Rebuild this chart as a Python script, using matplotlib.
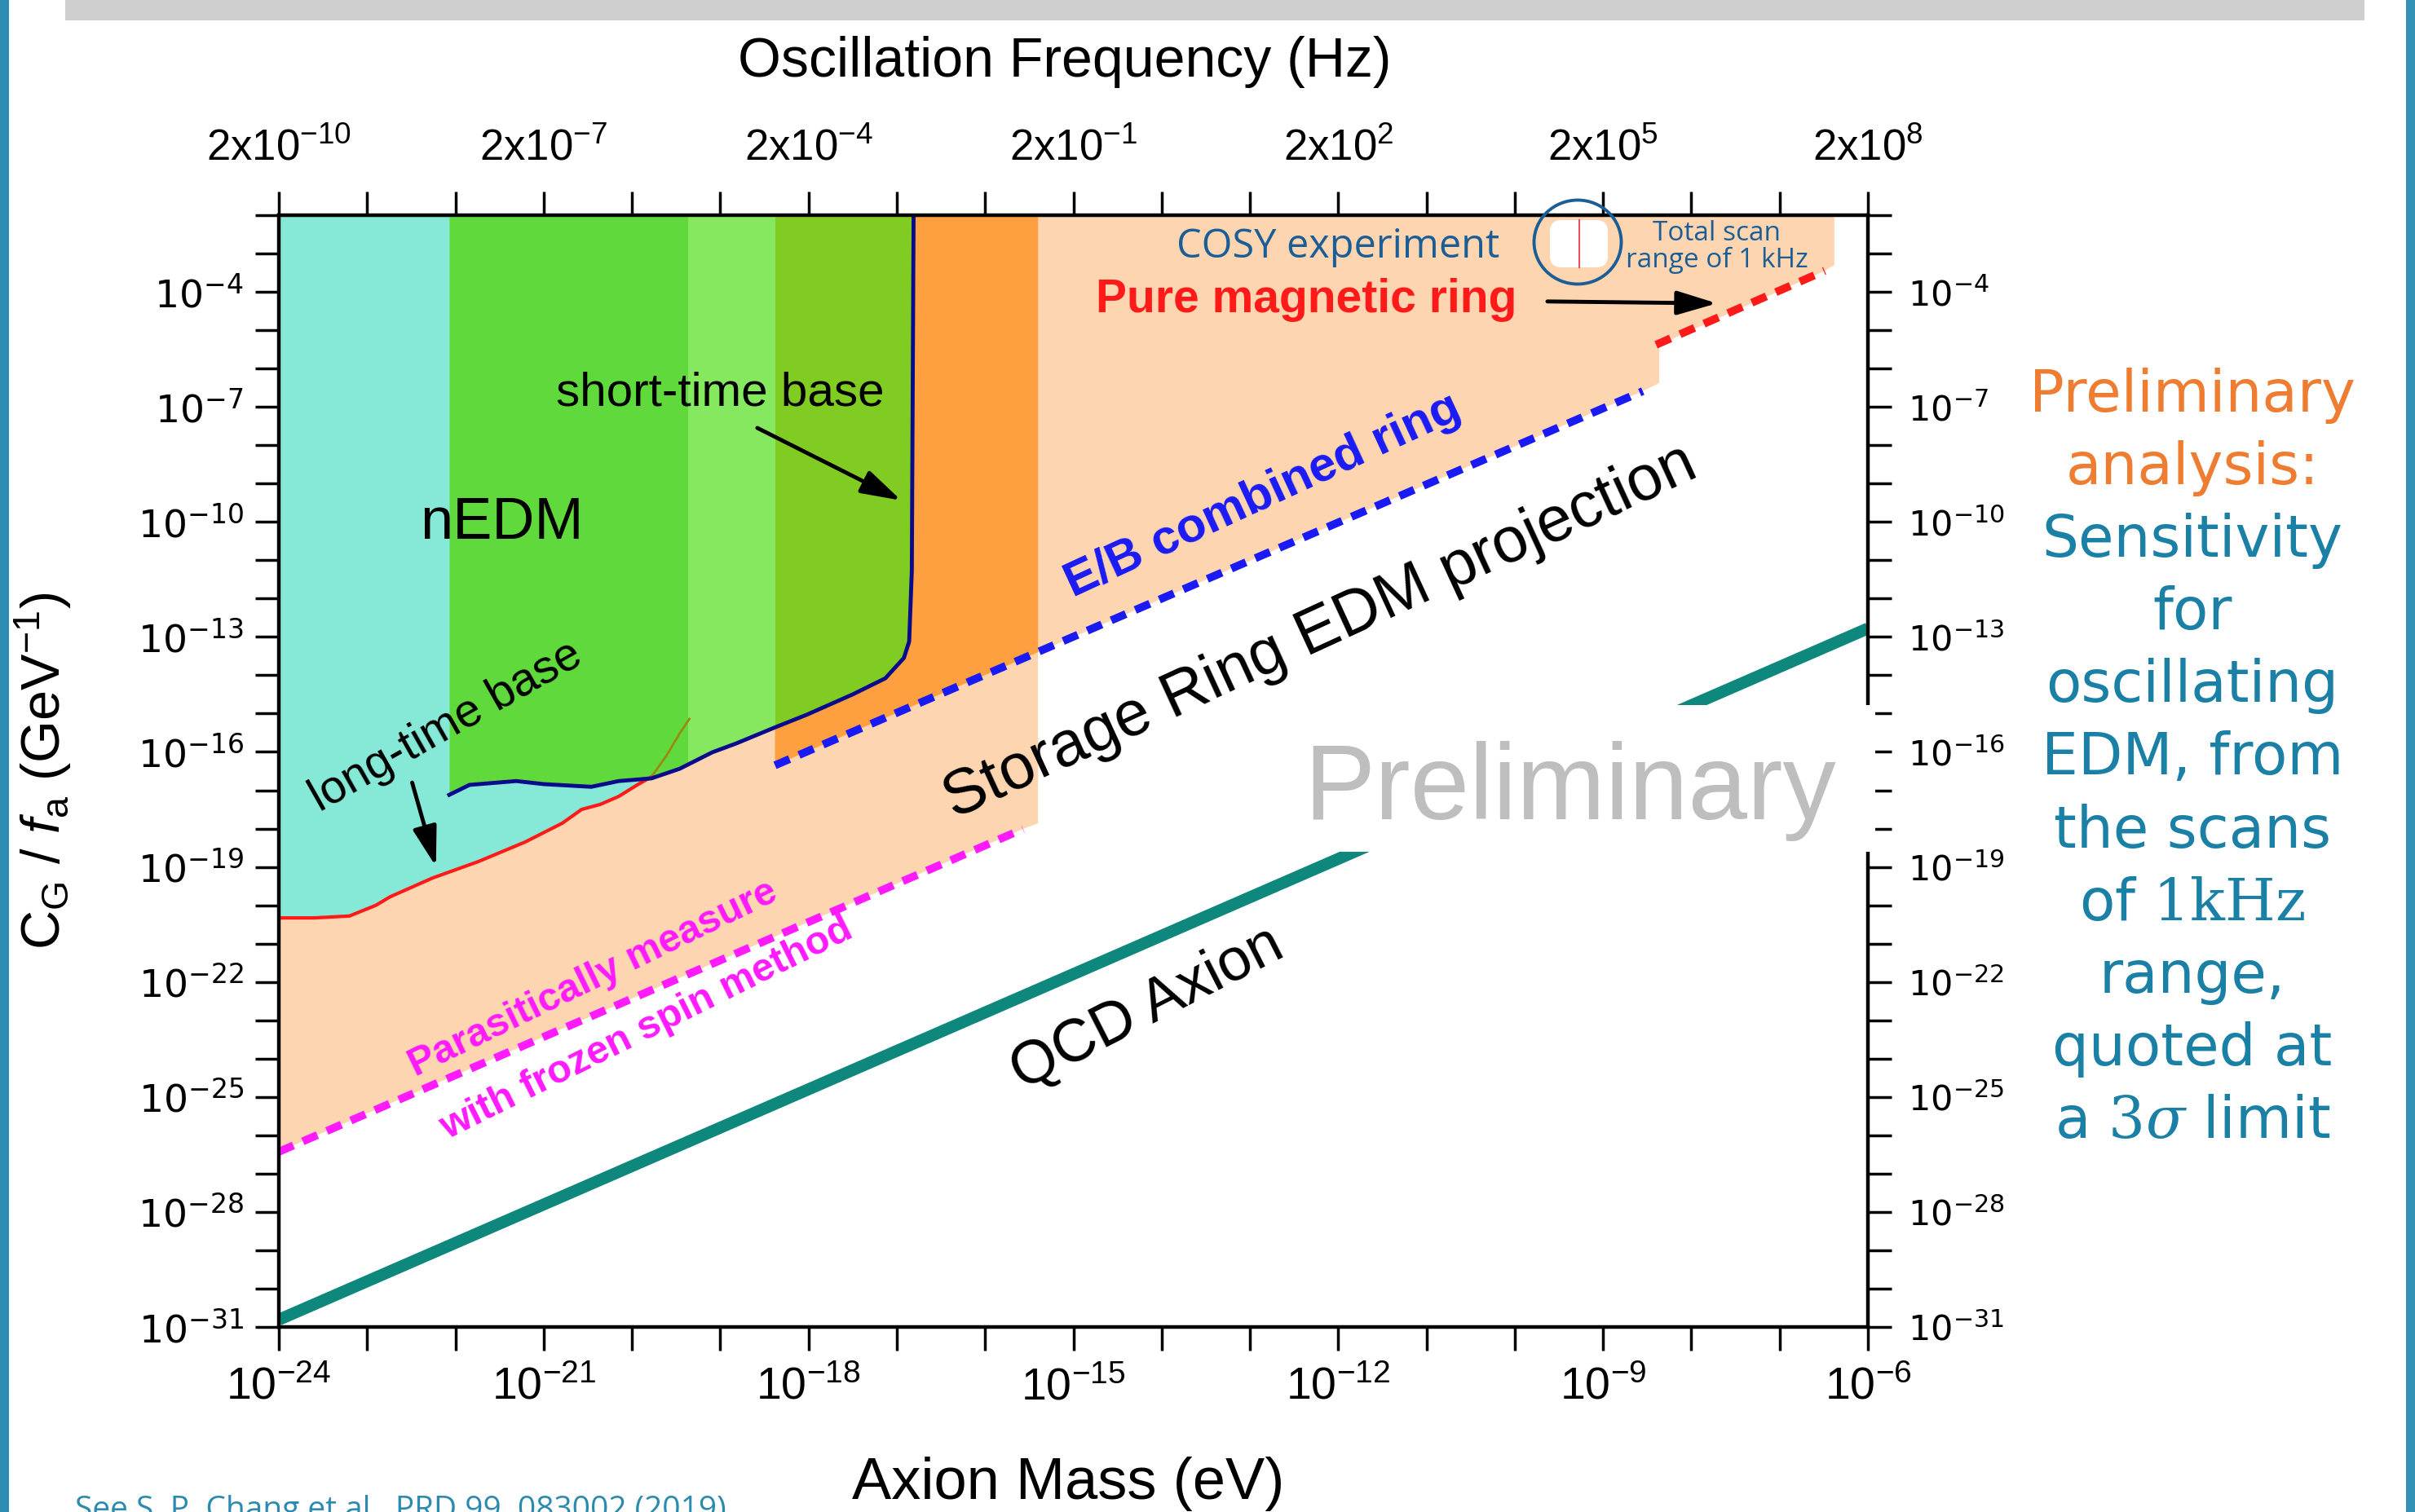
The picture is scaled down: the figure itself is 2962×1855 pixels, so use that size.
import numpy as np
import matplotlib
matplotlib.use('Agg')
import matplotlib.pyplot as plt
from matplotlib.patches import Rectangle, Ellipse, FancyBboxPatch
from matplotlib.lines import Line2D
from matplotlib.transforms import IdentityTransform

W, H, DPI = 2962, 1855, 100

#%% data (log10 of axion mass in eV, log10 of C_G/f_a in GeV^-1)
mass_tick_exp = np.arange(-24, -5)
mass_label_exp = [-24, -21, -18, -15, -12, -9, -6]
freq_labels = ['2x10$^{-10}$', '2x10$^{-7}$', '2x10$^{-4}$', '2x10$^{-1}$',
               '2x10$^{2}$', '2x10$^{5}$', '2x10$^{8}$']
coup_tick_exp = np.arange(-31, -1)
coup_label_exp = [-31, -28, -25, -22, -19, -16, -13, -10, -7, -4]

# nEDM long-time base (red)
red_logm = [-24.0, -23.6, -23.2, -22.9, -22.74, -22.26, -21.74, -21.21, -20.79,
            -20.57, -20.36, -20.15, -19.94, -19.78]
red_logg = [-20.33, -20.33, -20.28, -20.0, -19.78, -19.29, -18.86, -18.35, -17.86,
            -17.5, -17.37, -17.16, -16.86, -16.65]
# continuation of the long-time curve inside the green band
olive_logm = [-19.78, -19.61, -19.46, -19.35]
olive_logg = [-16.65, -16.1, -15.52, -15.14]
# nEDM short-time base (navy)
short_logm = [-22.07, -21.84, -21.31, -21.0, -20.46, -20.15, -19.78, -19.46, -19.09,
              -18.82, -18.39, -18.02, -17.5, -17.13, -16.92, -16.86, -16.83, -16.81]
short_logg = [-17.12, -16.86, -16.76, -16.84, -16.91, -16.76, -16.69, -16.44, -16.01,
              -15.78, -15.37, -15.03, -14.5, -14.08, -13.55, -13.12, -11.27, -2.0]
# green bands above the short-time curve
band_edges_logm = [-22.07, -19.36, -18.38, -16.81]
# orange band
orange_logm = [-18.38, -15.40]
orange_low_logg = [-16.35, -13.40]
# storage ring projection (peach area) outline
peach_logm = [-24.0, -24.0, -15.57, -15.40, -15.40, -8.55, -8.365, -8.365, -6.49, -6.38, -6.38]
peach_logg = [-2.0, -26.43, -18.01, -17.86, -13.40, -6.59, -6.38, -5.38, -3.45, -3.3, -2.0]
# projections
eb_logm, eb_logg = [-18.38, -8.55], [-16.35, -6.59]
pm_logm, pm_logg = [-8.40, -6.49], [-5.38, -3.45]
fs_logm, fs_logg = [-24.0, -15.57], [-26.43, -18.01]
qcd_logm, qcd_logg = [-24.0, -6.0], [-30.81, -12.78]

side_lines = ['Preliminary', 'analysis:', 'Sensitivity', 'for', 'oscillating',
              'EDM, from', 'the scans', r'of $\mathrm{1kHz}$', 'range,',
              'quoted at', r'a $\mathrm{3}\mathit{\sigma}$ limit']

#%% colours
c_peach = '#FDD5B0'
c_teal = '#86E8D6'
c_green = ['#5FD93B', '#86E85E', '#80CC22']
c_orange = '#FFA040'
c_navy = '#0A0A8C'
c_red = '#FF1A1A'
c_blue = '#1A1AF5'
c_mag = '#FF1AFF'
c_qcd = '#0E877D'
c_cosy = '#1B5E96'
c_side = '#1A80A6'
c_side_or = '#EE7D31'

plt.rcParams['font.family'] = ['Liberation Sans', 'DejaVu Sans']
plt.rcParams['mathtext.default'] = 'regular'
plt.rcParams['mathtext.fontset'] = 'custom'
plt.rcParams['mathtext.rm'] = 'DejaVu Serif'
plt.rcParams['mathtext.it'] = 'DejaVu Serif:italic'
plt.rcParams['mathtext.sf'] = 'Liberation Sans:italic'

p10 = lambda a: 10.0 ** np.asarray(a, dtype=float)
fx = lambda x: x / W
fy = lambda y: 1 - y / H

fig = plt.figure(figsize=(W / DPI, H / DPI), dpi=DPI)
ax = fig.add_axes([fx(342), fy(1628), 1949 / W, 1364 / H])
ax.set_xscale('log')
ax.set_yscale('log')
ax.set_xlim(1e-24, 1e-6)
ax.set_ylim(1e-31, 1e-2)

#%% filled regions
ax.fill(p10(peach_logm), p10(peach_logg), color=c_peach, lw=0, zorder=1)
ax.fill_between(p10(red_logm), p10(red_logg), 1e-2, color=c_teal, lw=0, zorder=2)
ax.fill(p10([orange_logm[0], orange_logm[1], orange_logm[1], orange_logm[0]]),
        p10([orange_low_logg[0], orange_low_logg[1], -2, -2]), color=c_orange, lw=0, zorder=2.5)
green = ax.fill_between(p10(short_logm), p10(short_logg), 1e-2, color=c_green[0], lw=0, zorder=3)
gpath = green.get_paths()[0]
for i in (1, 2):
    sp = ax.axvspan(10.0 ** band_edges_logm[i], 10.0 ** band_edges_logm[i + 1],
                    color=c_green[i], lw=0, zorder=3.1)
    sp.set_clip_path(gpath, ax.transData)

#%% lines
ax.plot(p10(red_logm), p10(red_logg), color=c_red, lw=3, zorder=5)
ax.plot(p10(olive_logm), p10(olive_logg), color='#9A8A10', lw=2, zorder=5)
ax.plot(p10(short_logm), p10(short_logg), color=c_navy, lw=3.5, zorder=6)
dash = dict(lw=7, dashes=(2.0, 1.3), zorder=7)
ax.plot(p10(eb_logm), p10(eb_logg), color=c_blue, **dash)
ax.plot(p10(pm_logm), p10(pm_logg), color=c_red, **dash)
ax.plot(p10(fs_logm), p10(fs_logg), color=c_mag, **dash)
ax.plot(p10(qcd_logm), p10(qcd_logg), color=c_qcd, lw=10.5, zorder=7, solid_capstyle='butt')

#%% axes and ticks
ax.set_xticks(p10(mass_tick_exp),
              labels=['10$^{%d}$' % e if e in mass_label_exp else '' for e in mass_tick_exp])
ax.set_yticks(p10(coup_tick_exp),
              labels=['10$^{%d}$' % e if e in coup_label_exp else '' for e in coup_tick_exp])
ax.xaxis.set_minor_locator(plt.NullLocator())
ax.yaxis.set_minor_locator(plt.NullLocator())
ax.tick_params(axis='x', which='major', direction='out', length=21, width=2.5,
               labelsize=40, pad=14)
ax.tick_params(axis='y', which='major', direction='out', length=21, width=2.5,
               labelsize=34, pad=10)
for t in ax.get_yticklabels():
    t.set_family('DejaVu Sans')
for s in ax.spines.values():
    s.set_linewidth(3)

axt = ax.twiny()
axt.set_xscale('log')
axt.set_xlim(ax.get_xlim())
axt.set_xticks(p10(mass_tick_exp),
               labels=[freq_labels[mass_label_exp.index(e)] if e in mass_label_exp else ''
                       for e in mass_tick_exp])
axt.xaxis.set_minor_locator(plt.NullLocator())
axt.tick_params(axis='x', direction='out', length=21, width=2.5, labelsize=38, pad=20)

axr = ax.twinx()
axr.set_yscale('log')
axr.set_ylim(ax.get_ylim())
axr.set_yticks(p10(coup_tick_exp),
               labels=['10$^{%d}$' % e if e in coup_label_exp else '' for e in coup_tick_exp])
axr.yaxis.set_minor_locator(plt.NullLocator())
axr.tick_params(axis='y', direction='out', length=21, width=2.5, labelsize=31, pad=14)
for t in axr.get_yticklabels():
    t.set_family('DejaVu Sans')
for a in (axt, axr):
    for s in a.spines.values():
        s.set_linewidth(3)

ax.set_ylabel(r'C$_G$ / $\mathsf{f}_a$ (GeV$^{-1}$)', fontsize=48)
ax.yaxis.set_label_coords(-(342 - 90) / 1949, 0.5)
fig.text(fx(1310), fy(1820), 'Axion Mass (eV)', fontsize=52, ha='center', va='center')
fig.text(fx(1306), fy(76), 'Oscillation Frequency (Hz)', fontsize=49, ha='center', va='center')

#%% annotations inside the plot
def t(xm, yg, s, **kw):
    ax.text(10.0 ** xm, 10.0 ** yg, s, ha='center', va='center',
            rotation_mode='anchor', zorder=9, **kw)

t(-21.47, -10.04, 'nEDM', fontsize=52)
t(-19.0, -6.64, 'short-time base', fontsize=42)
t(-22.10, -15.35, 'long-time base', fontsize=41, rotation=29.5)
t(-12.2, -12.87, 'Storage Ring EDM projection', fontsize=56, rotation=24.7)
t(-12.85, -9.31, 'E/B combined ring', fontsize=43, rotation=24.8, color=c_blue, weight='bold')
t(-20.44, -21.92, 'Parasitically measure', fontsize=35, rotation=26, color=c_mag, weight='bold')
t(-19.83, -23.22, 'with frozen spin method', fontsize=35, rotation=26.5, color=c_mag, weight='bold')
t(-14.16, -22.69, 'QCD Axion', fontsize=53, rotation=27)
t(-12.36, -4.21, 'Pure magnetic ring', fontsize=41, color=c_red, weight='bold')
t(-12.0, -2.83, 'COSY experiment', fontsize=35, color=c_cosy, family='Open Sans')
t(-7.71, -2.83, 'Total scan\nrange of 1 kHz', fontsize=24, color=c_cosy,
  family='Open Sans', linespacing=1.0)

arr = dict(arrowstyle='-|>,head_length=1.0,head_width=0.3', color='k', lw=3.5,
           shrinkA=0, shrinkB=0, mutation_scale=30)
ax.annotate('', xy=(10 ** -16.95, 10 ** -9.44), xytext=(10 ** -18.58, 10 ** -7.55),
            arrowprops=arr, zorder=9)
ax.annotate('', xy=(10 ** -22.22, 10 ** -18.99), xytext=(10 ** -22.49, 10 ** -16.80),
            arrowprops=arr, zorder=9)
ax.annotate('', xy=(10 ** -7.71, 10 ** -4.30), xytext=(10 ** -9.63, 10 ** -4.25),
            arrowprops=arr, zorder=9)

#%% COSY marker (pixel coordinates)
pix = IdentityTransform()
fig.add_artist(FancyBboxPatch((1901, H - 328), 71, 58, boxstyle='round,pad=0,rounding_size=14',
                              fc='white', ec='none', transform=pix, zorder=20))
fig.add_artist(Line2D([1937, 1937], [H - 270, H - 328], color='#E8505A', lw=1.5,
                      transform=pix, zorder=21))
fig.add_artist(Ellipse((1935, H - 297), 107, 103, fill=False, ec=c_cosy, lw=2.8,
                       transform=pix, zorder=21))

#%% preliminary stamp
fig.add_artist(Rectangle((fx(1560), fy(1045)), (2300 - 1560) / W, (1045 - 865) / H,
                         transform=fig.transFigure, fc='white', ec='none', zorder=20))
fig.text(fx(1926), fy(1005), 'Preliminary', fontsize=94, color='#BEBEBE',
         ha='center', va='baseline', zorder=21)

#%% slide decorations
fig.add_artist(Rectangle((0, 0), fx(11), 1, transform=fig.transFigure,
                         fc='#2E8DB3', ec='none', zorder=20))
fig.add_artist(Rectangle((fx(2951), 0), 11 / W, 1, transform=fig.transFigure,
                         fc='#3290B5', ec='none', zorder=20))
fig.add_artist(Rectangle((fx(80), fy(25)), (2900 - 80) / W, 25 / H, transform=fig.transFigure,
                         fc='#D0CFD0', ec='none', zorder=20))
fig.text(fx(92), fy(1834), 'See S. P. Chang et al., PRD 99, 083002 (2019)', fontsize=28,
         color='#2C8AAE', family='Open Sans', ha='left', va='top')

for i, s in enumerate(side_lines):
    fig.text(fx(2689), fy(505 + i * 89.1), s, fontsize=51, family='DejaVu Sans',
             color=c_side_or if i < 2 else c_side, ha='center', va='baseline')

fig.savefig('out.png', dpi=DPI)
